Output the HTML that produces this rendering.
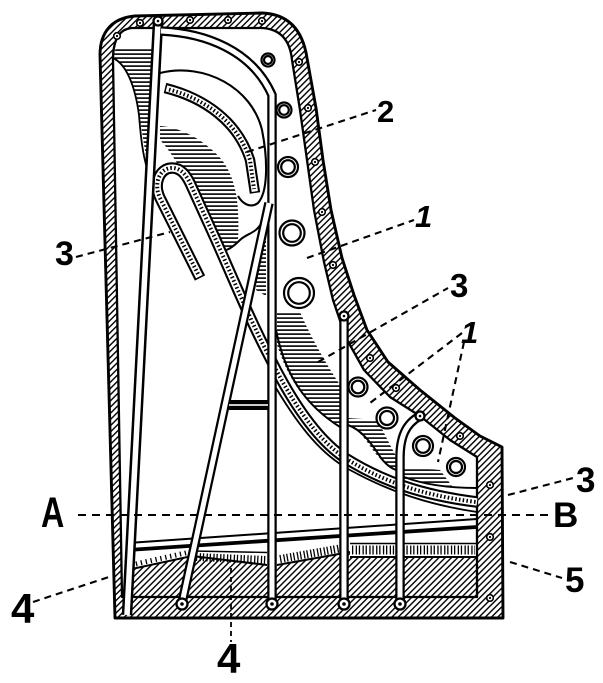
<!DOCTYPE html>
<html><head><meta charset="utf-8">
<style>
html,body{margin:0;padding:0;background:#fff;}
svg{display:block;}
text{font-family:"Liberation Sans",Arial,sans-serif;font-weight:bold;fill:#000;}
</style></head>
<body>
<svg width="603" height="683" viewBox="0 0 603 683" xmlns="http://www.w3.org/2000/svg">
<defs>
<pattern id="h" width="4.4" height="4.4" patternUnits="userSpaceOnUse" patternTransform="rotate(45)"><rect x="0" y="0" width="1.4" height="4.4" fill="#000"/></pattern>
<pattern id="hh" width="8" height="4" patternUnits="userSpaceOnUse"><rect x="0" y="1.3" width="8" height="1.6" fill="#000"/></pattern>
</defs>
<rect width="603" height="683" fill="#fff"/>

<!-- rim band hatch -->
<path fill="url(#h)" fill-rule="evenodd" d="M115,618 L100,55 C100,32 112,18 135,16 L262,13 C290,14 303,32 307,58 L316,108 L323,160 L331,210 L342,258 L354,295 L367,330 L388,362 L420,390 L455,418 L480,436 L502,447 L503,618 Z M122,597 L113,60 C113,40 119,29 132,28 L262,28 C280,29 290,40 292,60 L300,110 L307,160 L314,210 L324,262 L333,300 L346,338 L364,370 L390,397 L420,416 L450,440 L477,457 L477,597 Z"/>
<!-- lower hatched zone -->
<path fill="url(#h)" d="M127,570 L192,556 L267,565 L277,565 L350,552 L350,557 L477,557 L477,597 L123,597 Z"/>

<!-- horizontal shading regions -->
<path fill="url(#hh)" d="M116,47 L154,47 L148,165 C142,140 139,100 131,80 C126,68 120,62 113,58 Z"/>
<path fill="url(#hh)" d="M160,126 C180,127 205,140 222,160 C235,178 240,200 238,240 C232,250 222,252 218,245 C208,220 198,198 188,182 C180,168 170,150 160,140 Z"/>
<path fill="url(#hh)" d="M277,312 L300,312 C312,340 330,370 340,385 L340,426 C312,412 290,385 277,345 Z"/>
<path fill="url(#hh)" d="M348,418 L378,420 C386,438 394,452 399,462 L399,470 C388,468 378,458 370,446 C362,434 355,428 348,426 Z"/>
<path fill="url(#hh)" d="M404,467 L440,470 L452,486 L404,480 Z"/>
<path fill="url(#hh)" d="M258,252 L266,240 L266,296 L256,290 Z"/>

<!-- rim outlines -->
<path fill="none" stroke="#000" stroke-width="2.9" stroke-linejoin="round" d="M115,618 L100,55 C100,32 112,18 135,16 L262,13 C290,14 303,32 307,58 L316,108 L323,160 L331,210 L342,258 L354,295 L367,330 L388,362 L420,390 L455,418 L480,436 L502,447 L503,618 Z"/>
<path fill="none" stroke="#000" stroke-width="2.3" stroke-linejoin="round" d="M122,597 L113,60 C113,40 119,29 132,28 L262,28 C280,29 290,40 292,60 L300,110 L307,160 L314,210 L324,262 L333,300 L346,338 L364,370 L390,397 L420,416 L450,440 L477,457 L477,597 Z"/>

<!-- bottom structure: bar, dampers -->
<path fill="none" stroke="#000" stroke-width="2" d="M127,570 L192,556 L267,565 M277,565 L350,552 M350,557 L477,557"/>
<path fill="none" stroke="#000" stroke-width="5" stroke-dasharray="1.3 3.7" d="M131,565 L190,552"/>
<path fill="none" stroke="#000" stroke-width="8" stroke-dasharray="1.3 2.4 1.3 1.8" d="M196,557 L266,560"/>
<path fill="none" stroke="#000" stroke-width="1.4" d="M193,551 L267,552.5"/>
<path fill="none" stroke="#000" stroke-width="8" stroke-dasharray="1.3 2.4 1.3 1.8" d="M280,559 L348,547"/>
<path fill="none" stroke="#000" stroke-width="9" stroke-dasharray="1.3 2.4 1.3 1.8" d="M352,550 L475,550"/>
<path fill="none" stroke="#000" stroke-width="1.6" d="M350,543.5 L477,543.5"/>
<path fill="none" stroke="#000" stroke-width="2" d="M128,543 L477,519"/>
<path fill="none" stroke="#000" stroke-width="3.8" d="M128,550 L477,527"/>

<!-- top-left web boundary -->
<path fill="none" stroke="#000" stroke-width="1.8" d="M113,58 C126,64 135,85 139,115 C141,140 143,155 147,168"/>
<!-- arch line -->
<path fill="none" stroke="#000" stroke-width="2.1" d="M160,73 C205,62 252,88 262,130 C268,160 268,192 258,203 C250,209 242,203 238,196"/>
<!-- bump line -->
<path fill="none" stroke="#000" stroke-width="2" d="M214,246 C222,256 232,248 240,240 C247,233 256,234 262,222 L267,206"/>
<!-- plate lower edge -->
<path fill="none" stroke="#000" stroke-width="2" d="M276,330 C285,375 305,405 340,427 M348,425 C362,430 372,444 381,458 C388,467 394,470 400,471 M404,477 C425,485 450,488 477,488"/>
<path fill="none" stroke="#000" stroke-width="1.8" d="M276,388 C300,428 322,455 350,470 C390,492 430,505 477,512"/>

<!-- bridge 2 -->
<path fill="none" stroke="#000" stroke-width="10.5" d="M165,88 C205,98 238,122 250,160 L255,193"/>
<path fill="none" stroke="#fff" stroke-width="6.3" d="M166.5,88.4 C205,98 238,122 250,160 L254.8,191.5"/>
<path fill="none" stroke="#000" stroke-width="4" stroke-dasharray="1.5 2.3" d="M169,89.5 C205,99 238,122 250,160 L254,189"/>

<!-- hook + long bridge -->
<path fill="none" stroke="#000" stroke-width="11.5" d="M200,278 L160,198 C153,183 160,168 172,168 C181,168 186,175 190,183 L215,238 C232,276 250,320 270,358 C290,398 315,438 345,458 C380,480 420,495 477,502"/>
<path fill="none" stroke="#fff" stroke-width="7.3" d="M199.3,276.6 L160,198 C153,183 160,168 172,168 C181,168 186,175 190,183 L215,238 C232,276 250,320 270,358 C290,398 315,438 345,458 C380,480 420,495 477,502"/>
<path fill="none" stroke="#000" stroke-width="4" stroke-dasharray="1.5 2.3" d="M198,274 L160,198 C153,183 160,168 172,168 C181,168 186,175 190,183 L215,238 C232,276 250,320 270,358 C290,398 315,438 345,458 C380,480 420,495 476,502"/>

<!-- rods -->
<g fill="none" stroke-linecap="butt">
<path stroke="#000" stroke-width="10.5" d="M158,22 L127,615"/>
<path stroke="#fff" stroke-width="5.5" d="M158,22 L127,615"/>
<path stroke="#000" stroke-width="9.5" d="M161,31 C205,33 252,50 272,95 L272,603"/>
<path stroke="#fff" stroke-width="5" d="M161,31 C205,33 252,50 272,95 L272,603"/>
<path stroke="#000" stroke-width="9.5" d="M269,203 L182,603"/>
<path stroke="#fff" stroke-width="5" d="M269,203 L182,603"/>
<path stroke="#000" stroke-width="9.5" d="M344,316 L344,603"/>
<path stroke="#fff" stroke-width="5" d="M344,316 L344,603"/>
<path stroke="#000" stroke-width="9.5" d="M420,416 C405,424 400,438 400,458 L400,603"/>
<path stroke="#fff" stroke-width="5" d="M420,416 C405,424 400,438 400,458 L400,603"/>
</g>
<!-- crossbar -->
<rect x="229" y="400" width="39" height="10" fill="#000"/>
<rect x="229" y="404.2" width="39" height="1.6" fill="#fff"/>

<!-- plate circles -->
<g fill="#fff" stroke="#000" stroke-width="2.2">
<circle cx="268" cy="60" r="6.5"/><circle cx="268" cy="60" r="4"/>
<circle cx="284" cy="110" r="7.5"/><circle cx="284" cy="110" r="4.8"/>
<circle cx="288" cy="167" r="10"/><circle cx="288" cy="167" r="6.8"/>
<circle cx="292" cy="233" r="12.5"/><circle cx="292" cy="233" r="8.8"/>
<circle cx="299" cy="293" r="15"/><circle cx="299" cy="293" r="10.8"/>
<circle cx="358" cy="387" r="9.5"/><circle cx="358" cy="387" r="6.3"/>
<circle cx="387" cy="418" r="10.5"/><circle cx="387" cy="418" r="7"/>
<circle cx="423" cy="446" r="10"/><circle cx="423" cy="446" r="6.8"/>
<circle cx="456" cy="467" r="9"/><circle cx="456" cy="467" r="6"/>
</g>

<!-- rim pins -->
<g fill="#fff" stroke="#000" stroke-width="1.6">
<circle cx="117" cy="36" r="3.3"/><circle cx="140" cy="23" r="3.3"/>
<circle cx="190" cy="20" r="3.3"/><circle cx="228" cy="20" r="3.3"/>
<circle cx="262" cy="21" r="3.3"/><circle cx="299" cy="62" r="3.3"/>
<circle cx="308" cy="108" r="3.3"/><circle cx="315" cy="162" r="3.3"/>
<circle cx="322" cy="212" r="3.3"/><circle cx="333" cy="265" r="3.3"/>
<circle cx="370" cy="358" r="3.3"/><circle cx="396" cy="388" r="3.3"/>
<circle cx="460" cy="436" r="3.3"/><circle cx="490" cy="485" r="3.3"/>
<circle cx="490" cy="537" r="3.3"/><circle cx="490" cy="598" r="3.3"/>
</g>
<g fill="#000">
<circle cx="117" cy="36" r="1.1"/><circle cx="140" cy="23" r="1.1"/>
<circle cx="190" cy="20" r="1.1"/><circle cx="228" cy="20" r="1.1"/>
<circle cx="262" cy="21" r="1.1"/><circle cx="299" cy="62" r="1.1"/>
<circle cx="308" cy="108" r="1.1"/><circle cx="315" cy="162" r="1.1"/>
<circle cx="322" cy="212" r="1.1"/><circle cx="333" cy="265" r="1.1"/>
<circle cx="370" cy="358" r="1.1"/><circle cx="396" cy="388" r="1.1"/>
<circle cx="460" cy="436" r="1.1"/><circle cx="490" cy="485" r="1.1"/>
<circle cx="490" cy="537" r="1.1"/><circle cx="490" cy="598" r="1.1"/>
</g>

<!-- rod end pins -->
<g fill="#fff" stroke="#000" stroke-width="2.3">
<circle cx="158" cy="21" r="4.5"/><circle cx="344" cy="316" r="4.5"/><circle cx="420" cy="416" r="4.5"/>
<circle cx="182" cy="604" r="5.5"/><circle cx="272" cy="604" r="5.5"/>
<circle cx="344" cy="604" r="5.5"/><circle cx="400" cy="604" r="5.5"/>
</g>
<g fill="#000">
<circle cx="158" cy="21" r="1.3"/><circle cx="344" cy="316" r="1.3"/><circle cx="420" cy="416" r="1.3"/>
<circle cx="182" cy="604" r="1.8"/><circle cx="272" cy="604" r="1.8"/>
<circle cx="344" cy="604" r="1.8"/><circle cx="400" cy="604" r="1.8"/>
</g>

<!-- leader lines -->
<g fill="none" stroke="#000" stroke-width="2.1" stroke-dasharray="7 5">
<path d="M247,152 L376,110"/>
<path d="M307,258 L414,220"/>
<path d="M76,257 L170,232"/>
<path d="M318,362 L448,288"/>
<path d="M462,333 L370,403"/>
<path d="M464,342 L438,462"/>
<path d="M508,495 L573,478"/>
<path d="M510,562 L562,578"/>
<path d="M33,602 L115,575"/>
</g>
<path fill="none" stroke="#000" stroke-width="2.1" stroke-dasharray="8 6" d="M78,515 L548,515"/>
<path fill="none" stroke="#000" stroke-width="1.8" stroke-dasharray="5 4" d="M231,568 L231,642"/>

<!-- labels -->
<text x="377" y="122" font-size="31">2</text>
<text x="415" y="227" font-size="31" font-style="italic">1</text>
<text x="55" y="265" font-size="34">3</text>
<text x="450" y="297" font-size="33">3</text>
<text x="461" y="343" font-size="31" font-style="italic">1</text>
<text transform="translate(41,527) scale(0.75,1)" font-size="43">A</text>
<text x="553" y="527" font-size="35">B</text>
<text x="576" y="492" font-size="35">3</text>
<text x="565" y="592" font-size="35">5</text>
<text x="11" y="623" font-size="42">4</text>
<text x="217" y="673" font-size="42">4</text>
</svg>
</body></html>
